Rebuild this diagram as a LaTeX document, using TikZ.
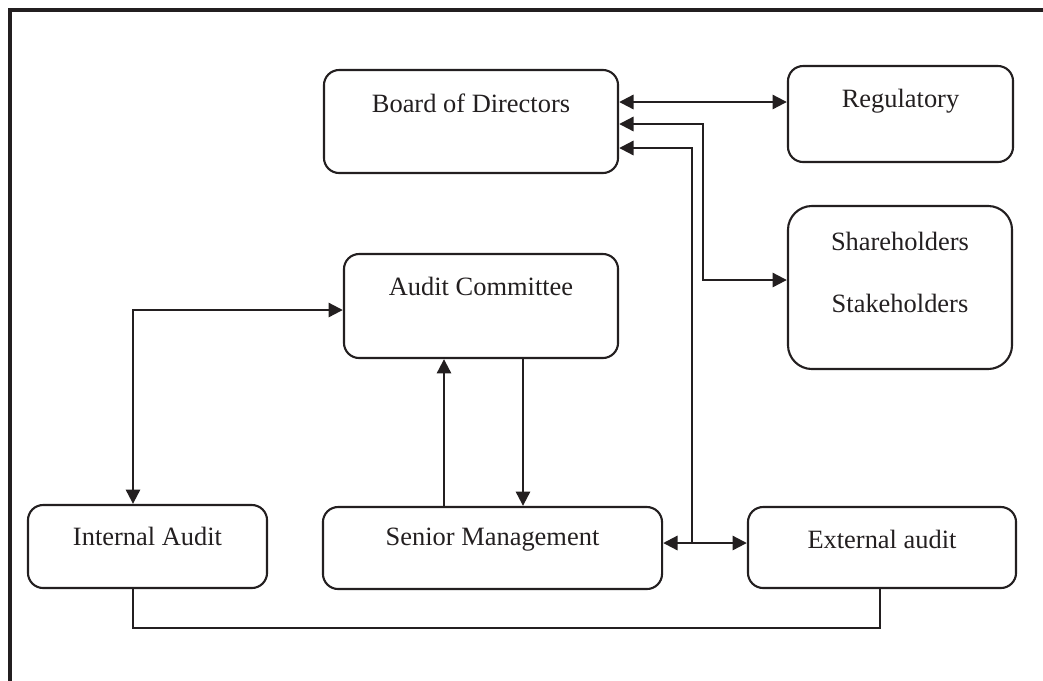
\documentclass[tikz,border=0pt]{standalone}
\usepackage{fontspec}
\setmainfont{Liberation Serif}
\usetikzlibrary{arrows.meta}
\definecolor{ink}{HTML}{231F20}
\begin{document}
\begin{tikzpicture}[x=0.025cm,y=-0.025cm,
    box/.style={draw=ink,line width=1.5pt,rounded corners=0.38cm,inner sep=0pt},
    txt/.style={anchor=base,inner sep=0pt,text=ink,font=\fontsize{18.8pt}{22pt}\selectfont},
    link/.style={draw=ink,line width=2.1pt,arrows={-{Triangle[length=0.36cm,width=0.35cm]}}},
    both/.style={link,arrows={{Triangle[length=0.36cm,width=0.35cm]}-{Triangle[length=0.36cm,width=0.35cm]}}},
    plain/.style={draw=ink,line width=1.3pt}]
    \useasboundingbox (0,0) rectangle (1043,680);
    % frame
    \draw[ink,line width=2.8pt] (10,700) -- (10,10) -- (1060,10);

    % boxes
    \node[box,minimum width=7.35cm,minimum height=2.575cm] at (471,121.5) (board) {};
    \node[box,minimum width=5.625cm,minimum height=2.4cm] at (900.5,114) (reg) {};
    \node[box,minimum width=5.6cm,minimum height=4.075cm,rounded corners=0.6cm] at (900,287.5) (share) {};
    \node[box,minimum width=6.85cm,minimum height=2.6cm] at (481,306) (ac) {};
    \node[box,minimum width=5.975cm,minimum height=2.075cm] at (147.5,546.5) (ia) {};
    \node[box,minimum width=8.475cm,minimum height=2.05cm] at (492.5,548) (sm) {};
    \node[box,minimum width=6.7cm,minimum height=2.025cm] at (882,547.5) (ea) {};

    % texts
    \node[txt] at (471,112) (boardtxt) {Board of Directors};
    \node[txt] at (900.5,107) (regtxt) {Regulatory};
    \node[txt] at (900,250) (sharetxt) {Shareholders};
    \node[txt] at (900,312) (staketxt) {Stakeholders};
    \node[txt] at (481,295) (actxt) {Audit Committee};
    \node[txt] at (147.5,545) (iatxt) {Internal Audit};
    \node[txt] at (492.5,545) (smtxt) {Senior Management};
    \node[txt] at (882,548) (eatxt) {External audit};

    % bends
    \coordinate (r1) at (700,102);
    \coordinate (k1) at (703,124);
    \coordinate (k2) at (703,280);
    \coordinate (j1) at (692,148);
    \coordinate (j2) at (692,543);
    \coordinate (m1) at (133,310);
    \coordinate (up) at (444,430);
    \coordinate (dn) at (523,430);
    \coordinate (b1) at (133,628);
    \coordinate (b2) at (880,628);

    \draw[both] (board.east |- r1) -- (reg.west |- r1);
    \draw[both] (board.east |- k1) -- (k1) -- (k2) -- (share.west |- k2);
    \draw[link] (j2) -- (j1) -- (board.east |- j1);
    \draw[both] (sm.east |- j2) -- (ea.west |- j2);
    \draw[both] (ia.north -| m1) -- (m1) -- (ac.west |- m1);
    \draw[link] (sm.north -| up) -- (ac.south -| up);
    \draw[link] (ac.south -| dn) -- (sm.north -| dn);
    \draw[plain] (ia.south -| b1) -- (b1) -- (b2) -- (ea.south -| b2);
\end{tikzpicture}
\end{document}
